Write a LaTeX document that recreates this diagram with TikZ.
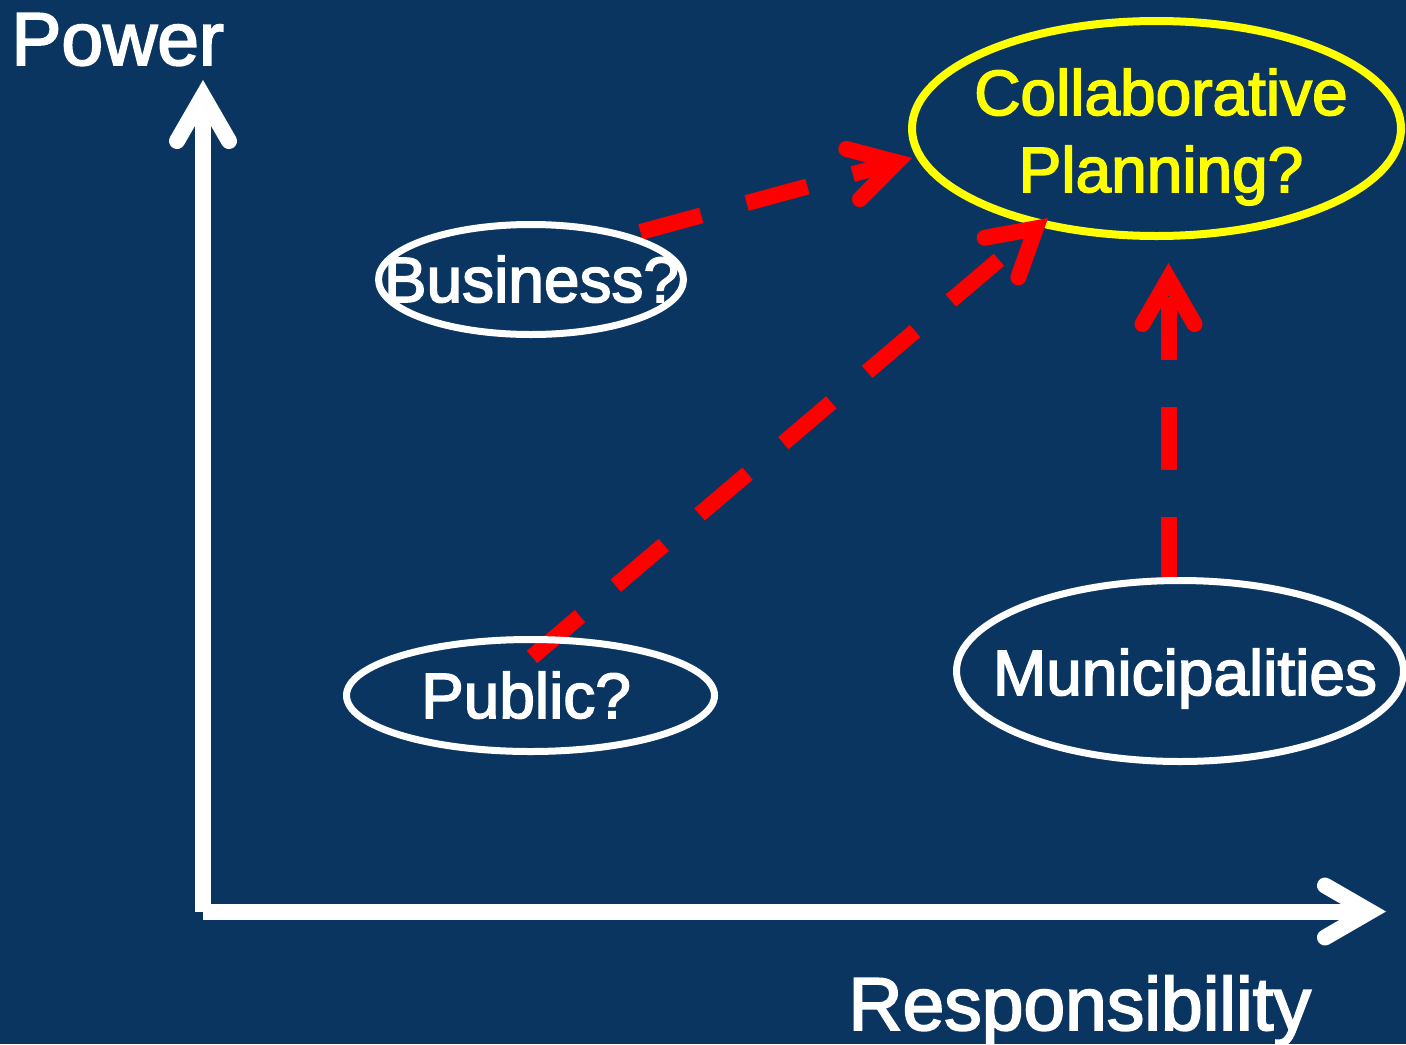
\documentclass[tikz,border=0pt]{standalone}
\usepackage{fontspec}
\setmainfont{Liberation Sans}
\newfontfamily\heavyfont[FakeBold=2.5]{Liberation Sans}
\usetikzlibrary{calc,shapes.geometric}
\definecolor{bgnavy}{RGB}{10,53,97}
\definecolor{hlyellow}{RGB}{255,255,0}
\pgfdeclarelayer{back}
\pgfdeclarelayer{mid}
\pgfsetlayers{back,mid,main}
\begin{document}
\begin{tikzpicture}[x=0.5pt,y=-0.5pt,
  axisline/.style={draw=white,line width=8pt},
  axishead/.style={draw=white,line width=8pt,line cap=round,line join=miter},
  wellipse/.style={ellipse,draw=white,line width=3.5pt,inner sep=0pt},
  yellipse/.style={ellipse,draw=hlyellow,line width=4pt,inner sep=0pt},
  lbl/.style={text=white,font=\heavyfont\fontsize{32}{38.5}\selectfont,inner sep=0pt,anchor=base},
  axlbl/.style={text=white,font=\heavyfont\fontsize{37.5}{45}\selectfont,inner sep=0pt,anchor=base west},
  reddash/.style={draw=red,line width=8pt,dash pattern=on 31.5pt off 23.5pt},
  redhead/.style={draw=red,line width=8pt,line cap=round,line join=miter}]

\begin{pgfonlayer}{back}
\fill[bgnavy] (0,0) rectangle (1406,1044);
\node[yellipse,minimum width=244.5pt,minimum height=107.5pt] (col) at (1156.5,128.5) {};
\end{pgfonlayer}
\useasboundingbox (0,0) rectangle (1406,1044);

% white ellipses
\node[wellipse,minimum width=152.5pt,minimum height=55pt] (bus) at (531,279.5) {};
\node[wellipse,minimum width=184pt,minimum height=56pt] (pub) at (530.5,695.5) {};
\node[wellipse,minimum width=223.5pt,minimum height=90.5pt] (mun) at (1180,671) {};

% texts
\node[lbl] (bustxt) at (531.5,302) {Business?};
\node[lbl] (pubtxt) at (526,718) {Public?};
\node[lbl] (muntxt) at (1185,695) {Municipalities};
\node[lbl,text=hlyellow] (coltxt) at (1161,192) {\begin{tabular}[b]{@{}c@{}}Collaborative\\Planning?\end{tabular}};

\node[axlbl] (power) at (11,65) {Power};
\node[axlbl] (resp) at (848,1030) {Responsibility};

% axes
\coordinate (origin) at (203,912);
\coordinate (ytip) at (203,96);
\coordinate (xstart) at (203,911.5);
\coordinate (xtip) at (1370,911.5);
\draw[axisline] (origin) -- (ytip);
\draw[axisline] (xstart) -- (xtip);
\draw[axishead] ($(ytip)!26pt!30:(origin)$) -- (ytip) -- ($(ytip)!26pt!-30:(origin)$);
\draw[axishead] ($(xtip)!26pt!30:(xstart)$) -- (xtip) -- ($(xtip)!26pt!-30:(xstart)$);

% red dashed arrows (under the white ellipses)
\coordinate (b1) at ($(bus.center)+(109.5,-47.5)$);
\coordinate (b2) at ($(col.center)+(-259.9,33.7)$);
\coordinate (p1) at ($(pub.center)+(1.5,-38.5)$);
\coordinate (p2) at ($(col.center)+(-120.7,99.9)$);
\coordinate (m1) at ($(mun.center)+(-11.5,-91)$);
\coordinate (m2) at ($(col.center)+(12,150.5)$);

\begin{pgfonlayer}{mid}
\draw[reddash] (b1) -- (b2);
\draw[redhead] ($(b2)!26pt!30:(b1)$) -- (b2) -- ($(b2)!26pt!-30:(b1)$);
\draw[reddash] (p1) -- (p2);
\draw[redhead] ($(p2)!26pt!30:(p1)$) -- (p2) -- ($(p2)!26pt!-30:(p1)$);
\draw[reddash] (m1) -- (m2);
\draw[redhead] ($(m2)!26pt!30:(m1)$) -- (m2) -- ($(m2)!26pt!-30:(m1)$);
\end{pgfonlayer}
\end{tikzpicture}
\end{document}
